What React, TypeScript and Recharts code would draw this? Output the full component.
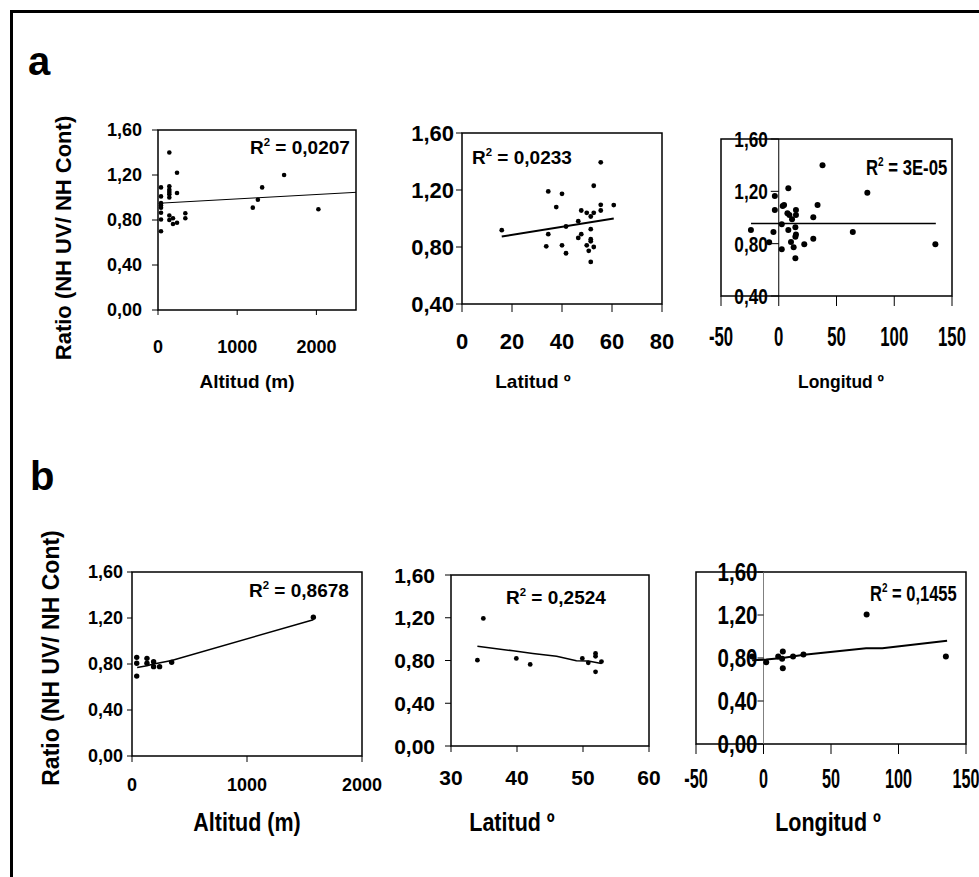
import React from 'react'
import { ScatterChart, Scatter, XAxis, YAxis, ReferenceArea, ReferenceLine } from 'recharts'

const FONT = "'Liberation Sans', Arial, sans-serif"

// a: todas las muestras
const altA = [38, 38, 38, 38, 38, 38, 38, 38, 143, 143, 143, 143, 143, 143, 143, 143, 189, 189, 240, 240, 240, 345, 345, 1197, 1261, 1315, 1592, 2025]
const ratioAltA = [1.09, 1.01, 0.95, 0.93, 0.91, 0.865, 0.805, 0.7, 1.4, 1.1, 1.07, 1.05, 1.03, 1.0, 0.84, 0.8, 0.815, 0.765, 1.22, 1.04, 0.776, 0.86, 0.815, 0.91, 0.98, 1.09, 1.2, 0.895]
const trendAltAX = [38, 2500]
const trendAltAY = [0.95, 1.046]

const latA = [15.9, 34.5, 34.5, 33.7, 37.7, 40, 40, 41.6, 41.6, 46.5, 46.5, 47.7, 47.7, 49.9, 49.9, 50.7, 51.5, 51.5, 51.5, 51.5, 51.5, 52.7, 52.7, 52.7, 55.5, 55.5, 55.5, 60.7]
const ratioLatA = [0.918, 1.19, 0.89, 0.805, 1.08, 1.173, 0.812, 0.756, 0.944, 0.981, 0.864, 1.056, 0.89, 1.04, 0.812, 0.773, 1.014, 0.925, 0.855, 0.84, 0.695, 1.23, 1.04, 0.8, 1.394, 1.096, 1.056, 1.094]
const trendLatAX = [15.9, 60.7]
const trendLatAY = [0.873, 1.0]

const lonA = [-24.1, -8.3, -4.6, -3.4, -3.4, 2.6, 2.6, 3.4, 4.6, 7.5, 8.3, 8.3, 9.2, 10.6, 11.5, 12.9, 14.4, 14.4, 14.9, 14.9, 14.9, 14.4, 22.1, 29.9, 29.9, 33.6, 37.9, 64.1, 76.7, 135.6]
const ratioLonA = [0.904, 0.81, 0.889, 1.164, 1.057, 0.948, 0.757, 1.088, 1.096, 1.032, 1.223, 0.904, 1.019, 0.813, 0.986, 0.772, 0.925, 0.853, 0.871, 1.057, 1.019, 0.688, 0.795, 1.001, 0.838, 1.096, 1.399, 0.889, 1.19, 0.795]
const trendLonAX = [-24, 136]
const trendLonAY = [0.955, 0.955]

// b
const altB = [41, 41, 41, 130, 130, 188, 188, 240, 345, 1577]
const ratioAltB = [0.858, 0.806, 0.695, 0.849, 0.806, 0.82, 0.777, 0.777, 0.815, 1.207]
const trendAltBX = [45, 130, 188, 345, 1577]
const trendAltBY = [0.77, 0.785, 0.8, 0.83, 1.185]

const latB = [34, 34.9, 39.9, 42, 49.9, 50.8, 51.9, 51.9, 51.9, 52.8]
const ratioLatB = [0.803, 1.194, 0.819, 0.763, 0.819, 0.778, 0.866, 0.84, 0.694, 0.79]
const trendLatBX = [34, 39.4, 42.4, 46, 49, 50.8, 52.8]
const trendLatBY = [0.934, 0.891, 0.866, 0.84, 0.797, 0.795, 0.772]

const lonB = [-8.4, 2, 10.9, 13.8, 14.3, 14.3, 21.9, 29.6, 76.4, 135.1]
const ratioLonB = [0.814, 0.761, 0.814, 0.792, 0.86, 0.705, 0.814, 0.832, 1.205, 0.814]
const trendLonBX = [-8.4, 2, 14, 30, 76, 88, 136]
const trendLonBY = [0.78, 0.785, 0.8, 0.83, 0.89, 0.89, 0.96]

const ticksAlt = [0, 1000, 2000]
const ticksLatA = [0, 20, 40, 60, 80]
const ticksLatB = [30, 40, 50, 60]
const ticksLon = [-50, 0, 50, 100, 150]
const ticksY0 = [0, 0.4, 0.8, 1.2, 1.6]
const ticksY4 = [0.4, 0.8, 1.2, 1.6]

const r2Values = ['0,0207', '0,0233', '3E-05', '0,8678', '0,2524', '0,1455']
const xTitles = ['Altitud (m)', 'Latitud º', 'Longitud º']
const yTitle = 'Ratio (NH UV/ NH Cont)'

const zip = (xs: number[], ys: number[]) => xs.map((x, i) => ({ x, y: ys[i] }))
const fmtY = (v: number) => v.toFixed(2).replace('.', ',')

const PAD_L = 110
const PAD_T = 30
const PAD_R = 45
const PAD_B = 60

// bold text, optionally squeezed horizontally (the figure uses a narrow face)
function T({ x, y, fs, sx = 1, anchor = 'start', dy, children }: any) {
  return (
    <text transform={`translate(${x} ${y}) scale(${sx} 1)`} dy={dy} textAnchor={anchor} fontSize={fs}
      fontFamily={FONT} fontWeight={700} fill="#000">
      {children}
    </text>
  )
}

interface PanelProps {
  box: [number, number, number, number]
  xDomain: [number, number]
  xTicks: number[]
  yDomain: [number, number]
  yTicks: number[]
  points: { x: number; y: number }[]
  trend: { x: number; y: number }[]
  xFont: number
  xSx?: number
  yFont: number
  ySx?: number
  yTick: number
  yGap: number
  xTick: number
  xGap: number
  dot: number
  trendWidth: number
  zeroAxis?: string
}

function Panel(p: PanelProps) {
  const [x0, y0, x1, y1] = p.box
  const pw = x1 - x0
  const ph = y1 - y0
  const zeroPx = ((0 - p.xDomain[0]) / (p.xDomain[1] - p.xDomain[0])) * pw

  const xTickEl = (t: any) => (
    <T x={t.x} y={t.y} dy="0.71em" anchor="middle" fs={p.xFont} sx={p.xSx}>{String(t.payload.value)}</T>
  )
  const yTickEl = (t: any) => (
    <T x={t.x} y={t.y} dy="0.36em" anchor="end" fs={p.yFont} sx={p.ySx}>{fmtY(t.payload.value)}</T>
  )
  const zeroTick = (t: any) => (
    <g>
      <line x1={PAD_L + zeroPx - p.yTick} x2={PAD_L + zeroPx} y1={t.y} y2={t.y} stroke="#000" />
      <T x={PAD_L + zeroPx - p.yTick - p.yGap} y={t.y} dy="0.36em" anchor="end" fs={p.yFont} sx={p.ySx}>
        {fmtY(t.payload.value)}
      </T>
    </g>
  )

  return (
    <div style={{ position: 'absolute', left: x0 - PAD_L, top: y0 - PAD_T }}>
      <ScatterChart width={pw + PAD_L + PAD_R} height={ph + PAD_T + PAD_B} margin={{ top: PAD_T, right: PAD_R, bottom: 0, left: 0 }}>
        <XAxis
          type="number"
          dataKey="x"
          domain={p.xDomain}
          ticks={p.xTicks}
          allowDataOverflow
          height={PAD_B}
          axisLine={false}
          tickLine={{ stroke: '#000' }}
          tickSize={p.xTick}
          tickMargin={p.xGap}
          tick={xTickEl}
          interval={0}
        />
        <YAxis
          type="number"
          dataKey="y"
          domain={p.yDomain}
          ticks={p.yTicks}
          allowDataOverflow
          width={PAD_L}
          axisLine={false}
          tickLine={p.zeroAxis ? false : { stroke: '#000' }}
          tickSize={p.yTick}
          tickMargin={p.yGap}
          tick={p.zeroAxis ? zeroTick : yTickEl}
          interval={0}
        />
        <ReferenceArea x1={p.xDomain[0]} x2={p.xDomain[1]} y1={p.yDomain[0]} y2={p.yDomain[1]} fill="none" stroke="#000" strokeWidth={1.5} />
        {p.zeroAxis && <ReferenceLine x={0} stroke={p.zeroAxis} strokeWidth={1} />}
        <Scatter data={p.points} isAnimationActive={false} shape={(s: any) => <circle cx={s.cx} cy={s.cy} r={p.dot} fill="#000" />} />
        <Scatter data={p.trend} isAnimationActive={false} line={{ stroke: '#000', strokeWidth: p.trendWidth }} shape={() => <g />} />
      </ScatterChart>
    </div>
  )
}

function R2({ x, cy, fs, sx = 1, value }: { x: number; cy: number; fs: number; sx?: number; value: string }) {
  return (
    <g transform={`translate(${x} ${cy + fs * 0.36}) scale(${sx} 1)`}>
      <text x={0} y={0} fontSize={fs} fontFamily={FONT} fontWeight={700} fill="#000">
        <tspan>R</tspan>
        <tspan dy={-fs * 0.42} fontSize={fs * 0.6}>2</tspan>
        <tspan dy={fs * 0.42}>{` = ${value}`}</tspan>
      </text>
    </g>
  )
}

export default function App() {
  return (
    <div style={{ position: 'absolute', left: 0, top: 0, width: 979, height: 877, background: '#fff', overflow: 'hidden' }}>
      <Panel box={[158, 130, 356, 310]} xDomain={[0, 2500]} xTicks={ticksAlt} yDomain={[0, 1.6]} yTicks={ticksY0}
        points={zip(altA, ratioAltA)} trend={zip(trendAltAX, trendAltAY)} xFont={18} yFont={18}
        yTick={6} yGap={10} xTick={5} xGap={25} dot={2.3} trendWidth={1} />
      <Panel box={[462, 133, 662, 304]} xDomain={[0, 80]} xTicks={ticksLatA} yDomain={[0.4, 1.6]} yTicks={ticksY4}
        points={zip(latA, ratioLatA)} trend={zip(trendLatAX, trendLatAY)} xFont={22} yFont={22}
        yTick={6} yGap={2} xTick={8} xGap={21} dot={2.4} trendWidth={2} />
      <Panel box={[721, 139, 952, 296]} xDomain={[-50, 150]} xTicks={ticksLon} yDomain={[0.4, 1.6]} yTicks={ticksY4}
        points={zip(lonA, ratioLonA)} trend={zip(trendLonAX, trendLonAY)} xFont={27} xSx={0.62} yFont={22} ySx={0.78}
        yTick={8} yGap={3} xTick={10} xGap={21} dot={3} trendWidth={1.5} zeroAxis="#000" />
      <Panel box={[132, 572, 362, 756]} xDomain={[0, 2000]} xTicks={ticksAlt} yDomain={[0, 1.6]} yTicks={ticksY0}
        points={zip(altB, ratioAltB)} trend={zip(trendAltBX, trendAltBY)} xFont={18} yFont={18}
        yTick={5} yGap={4} xTick={6} xGap={16} dot={2.7} trendWidth={1.5} />
      <Panel box={[451, 575, 649, 746]} xDomain={[30, 60]} xTicks={ticksLatB} yDomain={[0, 1.6]} yTicks={ticksY0}
        points={zip(latB, ratioLatB)} trend={zip(trendLatBX, trendLatBY)} xFont={21} yFont={21}
        yTick={6} yGap={10} xTick={6} xGap={18} dot={2.4} trendWidth={1.5} />
      <Panel box={[696, 572, 966, 744]} xDomain={[-50, 150]} xTicks={ticksLon} yDomain={[0, 1.6]} yTicks={ticksY0}
        points={zip(lonB, ratioLonB)} trend={zip(trendLonBX, trendLonBY)} xFont={27} xSx={0.6} yFont={25} ySx={0.82}
        yTick={6} yGap={0} xTick={10} xGap={15} dot={3} trendWidth={2} zeroAxis="#808080" />

      <svg width={979} height={877} style={{ position: 'absolute', left: 0, top: 0, pointerEvents: 'none' }}>
        <path d="M11.5 877 V11.5 H979" fill="none" stroke="#000" strokeWidth={3} />
        <T x={28} y={75} fs={40}>a</T>
        <T x={30} y={490} fs={40}>b</T>
        <text transform="translate(63,238) rotate(-90)" dy="0.36em" textAnchor="middle" fontSize={22} fontFamily={FONT} fontWeight={700}>{yTitle}</text>
        <text transform="translate(51,658) rotate(-90)" dy="0.36em" textAnchor="middle" fontSize={23} fontFamily={FONT} fontWeight={700}>{yTitle}</text>

        <T x={247} y={381} dy="0.36em" anchor="middle" fs={19}>{xTitles[0]}</T>
        <T x={533} y={381} dy="0.36em" anchor="middle" fs={19}>{xTitles[1]}</T>
        <T x={841} y={381} dy="0.36em" anchor="middle" fs={19} sx={0.92}>{xTitles[2]}</T>
        <T x={247} y={822} dy="0.36em" anchor="middle" fs={25} sx={0.86}>{xTitles[0]}</T>
        <T x={512} y={822} dy="0.36em" anchor="middle" fs={25} sx={0.86}>{xTitles[1]}</T>
        <T x={828} y={822} dy="0.36em" anchor="middle" fs={25} sx={0.86}>{xTitles[2]}</T>

        <R2 x={250} cy={147} fs={19} value={r2Values[0]} />
        <R2 x={472} cy={157} fs={19} value={r2Values[1]} />
        <R2 x={866} cy={167} fs={22} sx={0.76} value={r2Values[2]} />
        <R2 x={249} cy={590} fs={19} value={r2Values[3]} />
        <R2 x={506} cy={597} fs={19} value={r2Values[4]} />
        <R2 x={870} cy={593} fs={22} sx={0.75} value={r2Values[5]} />
      </svg>
    </div>
  )
}
